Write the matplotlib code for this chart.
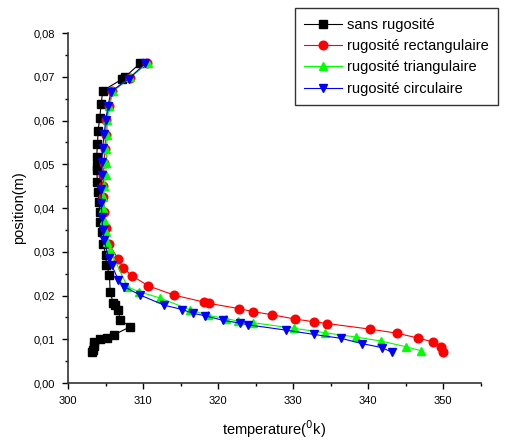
import matplotlib
matplotlib.use('Agg')
from matplotlib import pyplot as plt
from matplotlib.ticker import MultipleLocator, FuncFormatter

plt.rcParams['font.family'] = ['Liberation Sans', 'DejaVu Sans']

# sans rugosité
t_sans = [309.6, 307.6, 307.2, 304.6, 304.4, 304.2, 304.0, 303.9, 303.8, 303.8,
          303.8, 303.9, 304.0, 304.1, 304.2, 304.3, 304.5, 304.7, 305.0, 305.1,
          305.5, 305.6, 306.0, 306.2, 306.7, 306.9, 308.3, 306.1, 305.2, 304.3,
          303.5, 303.4, 303.3, 303.2]
y_sans = [0.0731, 0.0700, 0.0695, 0.0668, 0.0637, 0.0606, 0.0577, 0.0546, 0.0517, 0.0495,
          0.0487, 0.0460, 0.0437, 0.0414, 0.0392, 0.0369, 0.0346, 0.0317, 0.0293, 0.0270,
          0.0248, 0.0209, 0.0182, 0.0178, 0.0167, 0.0144, 0.0129, 0.0110, 0.0104, 0.0101,
          0.0093, 0.0085, 0.0075, 0.0071]

# rugosité rectangulaire
t_rect = [310.5, 308.2, 305.9, 305.4, 305.1, 305.0, 304.9, 304.8, 304.7, 304.7,
          304.7, 304.8, 305.0, 305.4, 306.7, 307.3, 308.5, 310.7, 314.1, 318.1,
          318.8, 322.8, 324.7, 327.2, 330.3, 332.8, 334.5, 340.3, 343.8, 346.6,
          348.6, 349.7, 349.9]
y_rect = [0.0731, 0.0698, 0.0667, 0.0633, 0.0601, 0.0568, 0.0536, 0.0504, 0.0475, 0.0450,
          0.0426, 0.0390, 0.0355, 0.0318, 0.0283, 0.0264, 0.0245, 0.0222, 0.0201, 0.0185,
          0.0182, 0.0170, 0.0163, 0.0156, 0.0146, 0.0140, 0.0136, 0.0123, 0.0114, 0.0103,
          0.0094, 0.0082, 0.0072]

# rugosité triangulaire
t_tri = [310.6, 308.3, 306.0, 305.5, 305.2, 305.2, 305.1, 305.1, 305.0, 304.8,
         304.7, 304.7, 304.8, 305.0, 305.2, 305.6, 307.9, 309.4, 312.3, 316.3,
         318.6, 321.0, 322.6, 324.6, 330.1, 334.2, 338.4, 341.7, 345.0, 347.0]
y_tri = [0.0731, 0.0699, 0.0667, 0.0633, 0.0601, 0.0567, 0.0535, 0.0503, 0.0475, 0.0450,
         0.0426, 0.0400, 0.0373, 0.0346, 0.0323, 0.0304, 0.0220, 0.0209, 0.0194, 0.0167,
         0.0155, 0.0147, 0.0142, 0.0138, 0.0125, 0.0115, 0.0105, 0.0096, 0.0083, 0.0074]

# rugosité circulaire
t_circ = [310.3, 308.1, 305.7, 305.3, 305.0, 304.8, 304.6, 304.5, 304.5, 304.4,
          304.4, 304.5, 304.6, 304.8, 305.4, 305.8, 306.7, 307.5, 309.6, 312.8,
          315.2, 316.7, 318.2, 320.7, 322.9, 324.0, 329.0, 332.8, 336.4, 339.2,
          341.8, 343.2]
y_circ = [0.0731, 0.0696, 0.0666, 0.0633, 0.0601, 0.0569, 0.0538, 0.0506, 0.0475, 0.0443,
          0.0411, 0.0380, 0.0350, 0.0327, 0.0285, 0.0270, 0.0235, 0.0220, 0.0201, 0.0178,
          0.0168, 0.0159, 0.0154, 0.0143, 0.0137, 0.0133, 0.0121, 0.0111, 0.0102, 0.0090,
          0.0081, 0.0070]

fig = plt.figure(figsize=(5.05, 4.41), dpi=100)
ax = fig.add_axes([0.135, 0.1315, 0.817, 0.7935])

ax.plot(t_sans, y_sans, color='black', marker='s', markersize=5.2, lw=0.8,
        label='sans rugosité')
ax.plot(t_rect, y_rect, color='red', marker='o', markersize=6.2, lw=0.8,
        label='rugosité rectangulaire')
ax.plot(t_tri, y_tri, color='#00ff00', marker='^', markersize=6.2, lw=0.8,
        label='rugosité triangulaire')
ax.plot(t_circ, y_circ, color='blue', marker='v', markersize=6.2, lw=0.8,
        label='rugosité circulaire')

ax.set_xlim(300, 355)
ax.set_ylim(0, 0.08)
ax.spines['top'].set_visible(False)
ax.spines['right'].set_visible(False)
for s in ('left', 'bottom'):
    ax.spines[s].set_linewidth(1.2)
    ax.spines[s].set_color('#333333')

ax.xaxis.set_major_locator(MultipleLocator(10))
ax.xaxis.set_minor_locator(MultipleLocator(5))
ax.yaxis.set_major_locator(MultipleLocator(0.01))
ax.yaxis.set_minor_locator(MultipleLocator(0.005))
ax.yaxis.set_major_formatter(FuncFormatter(lambda v, p: ('%.2f' % v).replace('.', ',')))
ax.tick_params(which='major', direction='out', length=4, width=1, labelsize=8)
ax.tick_params(axis='x', which='major', pad=5.5)
ax.tick_params(axis='y', which='major', pad=5.5)
ax.tick_params(which='minor', direction='out', length=2.5, width=1)

ax.set_xlabel('temperature($^{0}$k)', fontsize=10.5, labelpad=9)
ax.set_ylabel('position(m)', fontsize=10.5, labelpad=5)

leg = fig.legend(loc='upper left', bbox_to_anchor=(0.584, 0.981), fontsize=10.5,
                 fancybox=False, edgecolor='black', handlelength=2.6,
                 labelspacing=0.5, borderpad=0.65, handletextpad=0.3,
                 borderaxespad=0)
leg.get_frame().set_linewidth(1.0)

fig.savefig('out.png', dpi=100)
